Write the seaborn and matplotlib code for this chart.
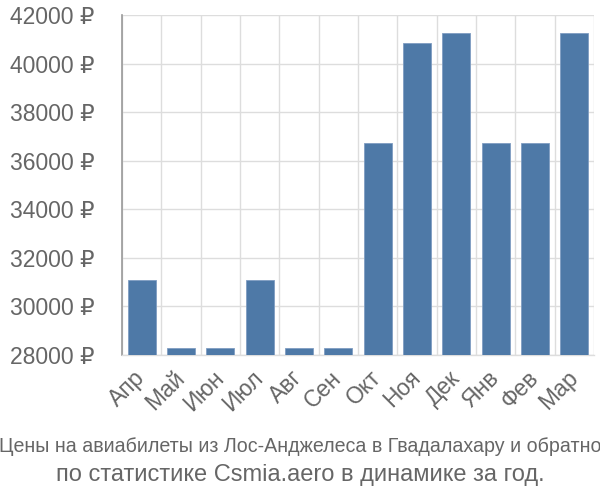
import matplotlib
matplotlib.use("Agg")
import matplotlib.pyplot as plt
import seaborn as sns
import numpy as np
import pandas as pd
from matplotlib.ticker import FixedLocator

months = ["Апр", "Май", "Июн", "Июл", "Авг", "Сен", "Окт", "Ноя", "Дек", "Янв", "Фев", "Мар"]
prices = [31090, 28280, 28280, 31090, 28280, 28280, 36720, 40860, 41240, 36720, 36720, 41240]
yticks = [28000, 30000, 32000, 34000, 36000, 38000, 40000, 42000]
caption1 = "Цены на авиабилеты из Лос-Анджелеса в Гвадалахару и обратно"
caption2 = "по статистике Csmia.aero в динамике за год."

sns.set_theme(style="white")
plt.rcParams['font.family'] = ['Liberation Sans', 'DejaVu Sans']

df = pd.DataFrame({"month": months, "price": prices})

fig = plt.figure(figsize=(6, 5), dpi=100)
ax = fig.add_axes([122/600, 1-355/500, (594-122)/600, (355-15)/500])

sns.barplot(data=df, x="month", y="price", color="#4e79a7", saturation=1,
            width=0.72, ax=ax, edgecolor="#7f9dc2", linewidth=0.6, zorder=3)

ax.set_ylim(28000, 42000)
ax.set_xlim(-0.5, len(months) - 0.5)
ax.set_xlabel("")
ax.set_ylabel("")

grid_c = "#dddddd"
text_c = "#666666"

ax.set_yticks(yticks)
ax.set_yticklabels([f"{v} ₽" for v in yticks], fontsize=16.5, color=text_c)
ax.tick_params(axis="y", length=19, color=grid_c, width=1, pad=1)

ax.xaxis.set_minor_locator(FixedLocator(np.arange(-0.5, len(months), 1.0)))
ax.tick_params(axis="x", which="major", length=0, pad=14)
ax.tick_params(axis="x", which="minor", length=15, color=grid_c, width=1)
ax.set_xticks(range(len(months)))
ax.set_xticklabels(months, rotation=45, ha="right", va="center", rotation_mode="anchor",
                   fontsize=16.5, color=text_c)

ax.grid(False)
ax.yaxis.grid(True, color=grid_c, linewidth=1, zorder=0)
ax.xaxis.grid(True, which="minor", color=grid_c, linewidth=1, zorder=0)
ax.set_axisbelow(True)

for s in ["top", "right"]:
    ax.spines[s].set_visible(False)
ax.spines["left"].set_color("#999999")
ax.spines["left"].set_linewidth(1.2)
ax.spines["bottom"].set_color(grid_c)
ax.spines["bottom"].set_linewidth(1)

fig.text(0.5, 1-447/500, caption1, ha="center", va="center", fontsize=14.1,
         color=text_c)
fig.text(0.5, 1-475/500, caption2, ha="center", va="center", fontsize=17,
         color=text_c)

fig.savefig("out.png", dpi=100)
